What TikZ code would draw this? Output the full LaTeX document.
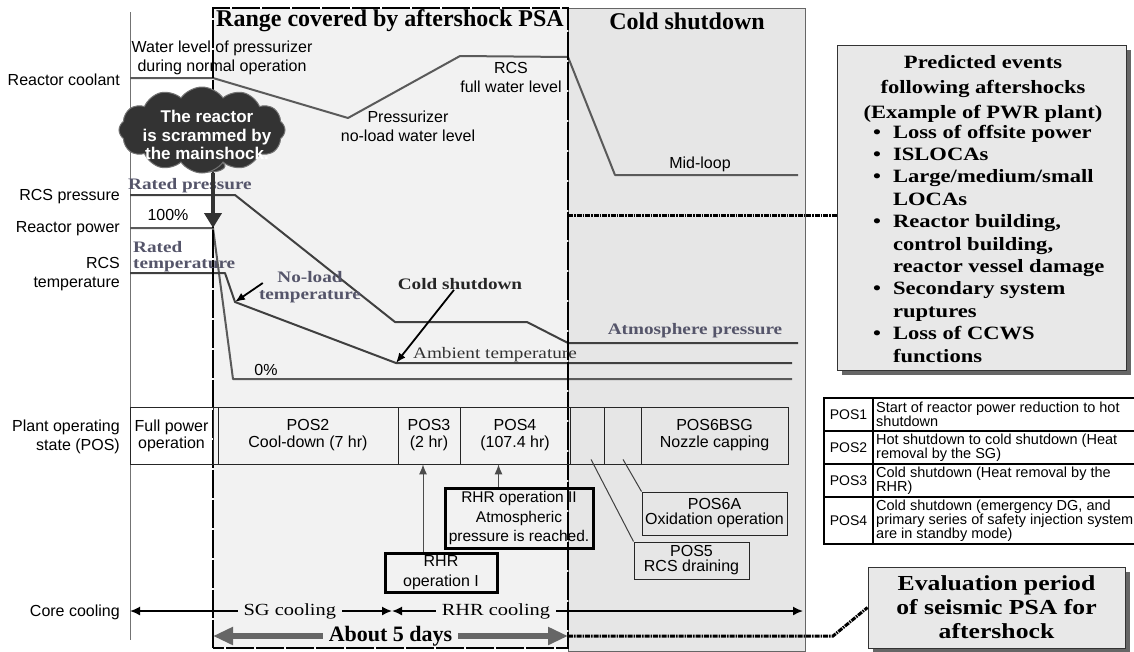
\documentclass[tikz,border=0pt]{standalone}
\usepackage{fontspec}
\setmainfont{Liberation Sans}
\newfontfamily\tms{Liberation Serif}
\newfontfamily\tmsw[FakeStretch=1.2]{Liberation Serif}
\usetikzlibrary{arrows.meta,shapes.symbols,shapes.geometric,shadows}

\definecolor{rangefill}{HTML}{F2F2F2}
\definecolor{coldfill}{HTML}{E6E6E6}
\definecolor{boxfill}{HTML}{E8E8E8}
\definecolor{curvedark}{HTML}{404040}
\definecolor{curvelight}{HTML}{5A5A5A}
\definecolor{slate}{HTML}{55556A}

\tikzset{
  sanslab/.style={font=\fontsize{16}{19}\selectfont, align=center, inner sep=0pt},
  leftlab/.style={sanslab, align=right, anchor=east},
  serlab/.style={font=\tmsw\bfseries\fontsize{16}{17}\selectfont, text=slate, align=center, inner sep=0pt},
  bigtitle/.style={font=\tms\bfseries\fontsize{24}{24}\selectfont, anchor=base, inner sep=0pt},
  curve/.style={line width=2pt, line join=round},
  poscell/.style={draw=black!85, line width=0.8pt, minimum height=57pt, inner sep=0pt, font=\fontsize{16}{17}\selectfont, align=center},
  rhrbox/.style={draw=black, line width=3pt, inner sep=0pt, align=center},
  posbox/.style={draw=black!85, line width=1pt, inner sep=0pt, align=center, font=\fontsize{16}{15}\selectfont},
  evbox/.style={draw=black!80, line width=1pt, fill=boxfill, inner sep=0pt, drop shadow={shadow xshift=5pt, shadow yshift=-5pt, fill=black!60, opacity=1}},
  tablab/.style={font=\fontsize{14}{14}\selectfont, inner sep=0pt},
  tabtxt/.style={font=\fontsize{14.5}{14}\selectfont, align=left, anchor=west, inner sep=0pt},
  link/.style={line width=3pt, dash pattern=on 5pt off 1pt on 1.5pt off 1pt},
  callout/.style={black, line width=1.8pt, -{Latex[length=10pt,width=8pt]}},
  uparrow/.style={draw=black!70, line width=1pt, -{Latex[length=10pt,width=8pt]}},
  leader/.style={draw=black!75, line width=1pt},
  scram/.style={draw=black!80, line width=4.5pt, -{Triangle[length=15pt,width=17pt]}},
  ccarrow/.style={black, line width=1.6pt, {Latex[length=10pt,width=9pt]}-{Latex[length=10pt,width=9pt]}},
  ccfill/.style={fill=rangefill, font=\tmsw\fontsize{17}{17}\selectfont, inner xsep=6pt, inner ysep=0pt},
  dayarrow/.style={draw=black!60, line width=6pt, {Triangle[length=20pt,width=17pt]}-{Triangle[length=20pt,width=17pt]}},
  dayfill/.style={fill=rangefill, font=\tms\bfseries\fontsize{22}{22}\selectfont, inner xsep=6pt, inner ysep=1pt},
}

\begin{document}
\begin{tikzpicture}[x=1pt, y=-1pt]
\useasboundingbox (0,0) rectangle (1134,651);

% regions
\node[draw=black!60, line width=1pt, fill=coldfill, minimum width=237pt, minimum height=643pt, inner sep=0pt] (cold) at (686.5,329.5) {};
\node[fill=rangefill, minimum width=355pt, minimum height=640pt, inner sep=0pt] (range) at (390.5,328) {};
\node[bigtitle] (rangetitle) at (390,26) {Range covered by aftershock PSA};
\node[bigtitle] (coldtitle) at (687,29) {Cold shutdown};

\coordinate (axtop) at (130,12);
\coordinate (axbot) at (130,640);
\draw[black!55, line width=1pt] (axtop) -- (axbot);

% curves
\coordinate (c0) at (130,78);  \coordinate (c1) at (213,78);
\coordinate (c2) at (348,118); \coordinate (c3) at (460,56);
\coordinate (c4) at (568,57);  \coordinate (c5) at (615,175);
\coordinate (c6) at (798,175);
\coordinate (p0) at (130,195); \coordinate (p1) at (235,195);
\coordinate (p2) at (395,322); \coordinate (p3) at (527,322);
\coordinate (p4) at (568,343); \coordinate (p5) at (798,343);
\coordinate (w0) at (130,228); \coordinate (w1) at (213,228);
\coordinate (w2) at (233,379); \coordinate (w3) at (792,379);
\coordinate (t0) at (130,273); \coordinate (t1) at (225,273);
\coordinate (t2) at (235,302); \coordinate (t3) at (396,363);
\coordinate (t4) at (792,363);
\draw[curve, curvelight] (c0) -- (c1) -- (c2) -- (c3) -- (c4) -- (c5) -- (c6);
\draw[curve, curvedark] (p0) -- (p1) -- (p2) -- (p3) -- (p4) -- (p5);
\draw[curve, curvelight] (w0) -- (w1) -- (w2) -- (w3);
\draw[curve, curvedark] (t0) -- (t1) -- (t2) -- (t3) -- (t4);

\draw[black, line width=2pt, dash pattern=on 28pt off 2pt] (range.south west) rectangle (range.north east);

% left labels
\node[leftlab] (lcool) at (120,80) {Reactor coolant};
\node[leftlab] (lpres) at (120,197) {RCS pressure};
\node[leftlab] (lpow) at (120,229) {Reactor power};
\node[leftlab] (ltemp) at (120,274) {RCS\\temperature};
\node[leftlab] (lpos) at (120,437) {Plant operating\\state (POS)};
\node[leftlab] (lcore) at (120,612) {Core cooling};

\node[sanslab] (normal) at (222,58) {Water level of pressurizer\\during normal operation};
\node[sanslab] (fulllevel) at (511,77) {RCS\\full water level};
\node[sanslab] (noload) at (408,126) {Pressurizer\\no-load water level};
\node[sanslab] (midloop) at (700,164) {Mid-loop};
\node[sanslab] (hundred) at (168,215) {100\%};
\node[sanslab] (zero) at (266,370) {0\%};

\node[serlab, anchor=west] (ratedp) at (128,186) {Rated pressure};
\node[serlab, align=left, anchor=west, font=\tmsw\bfseries\fontsize{16}{16}\selectfont] (ratedt) at (133,257) {Rated\\temperature};
\node[serlab] (nlt) at (310,287) {No-load\\temperature};
\node[serlab, text=black!85] (csd) at (460,284) {Cold shutdown};
\node[serlab, text=black!80, font=\tmsw\fontsize{16}{17}\selectfont] (amb) at (495,355) {Ambient temperature};
\node[serlab] (atm) at (695,331) {Atmosphere pressure};
\draw[callout] ([shift={(4pt,4pt)}]nlt.west) -- (t2);
\draw[callout] ([xshift=-6pt]csd.south) -- (t3);

% cloud
\node[ellipse, fill=black!80, draw=black!55, line width=1pt, minimum width=30pt, minimum height=12pt, inner sep=0pt] (ctail) at (210,166) {};
\node[cloud, cloud puffs=12, cloud puff arc=110, cloud ignores aspect, fill=black!80, draw=black!55, line width=1pt, minimum width=166pt, minimum height=86pt, inner sep=0pt] (cloud) at (202,130) {};
\node[font=\bfseries\fontsize{17}{18.5}\selectfont, text=white, align=center, inner sep=0pt] (scramtxt) at (207,135) {The reactor\\is scrammed by\\the mainshock.};
\draw[scram] (w1 |- ctail.south) -- (w1);

% plant operating states
\node[poscell, minimum width=83pt] (posfull) at (171.5,435.5) {Full power\\operation};
\node[poscell, minimum width=5pt] (posgap) at (215.5,435.5) {};
\node[poscell, minimum width=180pt] (pos2) at (308,435.5) {POS2\\Cool-down (7 hr)};
\node[poscell, minimum width=62pt] (pos3) at (429,435.5) {POS3\\(2 hr)};
\node[poscell, minimum width=110pt] (pos4) at (515,435.5) {POS4\\(107.4 hr)};
\node[poscell, minimum width=34pt] (pos5c) at (587,435.5) {};
\node[poscell, minimum width=37pt] (pos6c) at (622.5,435.5) {};
\node[poscell, minimum width=147pt] (pos6b) at (714.5,435.5) {POS6BSG\\Nozzle capping};

\node[rhrbox, minimum width=148pt, minimum height=60pt, font=\fontsize{15.5}{19.5}\selectfont] (rhr2) at (519,518) {RHR operation II\\Atmospheric\\pressure is reached.};
\node[rhrbox, minimum width=112pt, minimum height=39pt, font=\fontsize{16}{20}\selectfont] (rhr1) at (441,572.5) {RHR\\operation I};
\node[posbox, minimum width=145pt, minimum height=43pt] (pos6a) at (714.5,513.5) {POS6A\\Oxidation operation};
\node[posbox, minimum width=115pt, minimum height=37pt] (pos5) at (691.5,560.5) {POS5\\RCS draining};

\draw[uparrow] ([xshift=-18pt]rhr1.north) -- ([xshift=-18pt]rhr1.north |- pos3.south);
\draw[uparrow] (rhr1.east |- rhr2.north) -- (rhr1.east |- pos4.south);
\draw[leader] ([shift={(4pt,5pt)}]pos5c.south) -- (pos5.north west);
\draw[leader] ([shift={(0.5pt,5pt)}]pos6c.south) -- (pos6a.north west);

% core cooling and period
\coordinate (ccL) at (130,611);
\coordinate (ccM) at (392,611);
\coordinate (ccR) at (803,611);
\draw[ccarrow] (ccL) -- node[ccfill, pos=0.61] (sgcool) {SG cooling} (ccM);
\draw[ccarrow] (ccM) -- node[ccfill, pos=0.253] (rhrcool) {RHR cooling} (ccR);
\coordinate (d0) at (213,636);
\coordinate (d1) at (568,636);
\draw[dayarrow] (d0) -- node[dayfill] (days) {About 5 days} (d1);

% right side
\node[evbox, minimum width=289pt, minimum height=325pt] (events) at (981.5,207.5) {};
\node[font=\tmsw\bfseries\fontsize{18.8}{25}\selectfont, align=center, inner sep=0pt] (evtitle) at (983,89) {Predicted events\\following aftershocks\\(Example of PWR plant)};
\node[font=\tmsw\bfseries\fontsize{18.8}{22.4}\selectfont, anchor=north west, inner sep=0pt] (evlist) at (873,122.3) {%
\begin{tabular}{@{}l@{\hspace{12pt}}l@{}}
\textbullet & Loss of offsite power\\
\textbullet & ISLOCAs\\
\textbullet & Large/medium/small\\
 & LOCAs\\
\textbullet & Reactor building,\\
 & control building,\\
 & reactor vessel damage\\
\textbullet & Secondary system\\
 & ruptures\\
\textbullet & Loss of CCWS\\
 & functions
\end{tabular}};

\draw[black, line width=1.3pt] (1134,398) -- (824,398) -- (824,544) -- (1134,544);
\draw[black, line width=1.3pt] (873,398) -- (873,544);
\foreach \y in {431,464,497} \draw[black, line width=1.3pt] (824,\y) -- (1134,\y);
\node[tablab] (pos1l) at (848.5,414.5) {POS1};
\node[tablab] (pos2l) at (848.5,447.5) {POS2};
\node[tablab] (pos3l) at (848.5,480.5) {POS3};
\node[tablab] (pos4l) at (848.5,520.5) {POS4};
\node[tabtxt] (pos1t) at (876,414.5) {Start of reactor power reduction to hot\\shutdown};
\node[tabtxt] (pos2t) at (876,447.5) {Hot shutdown to cold shutdown (Heat\\removal by the SG)};
\node[tabtxt] (pos3t) at (876,480.5) {Cold shutdown (Heat removal by the\\RHR)};
\node[tabtxt] (pos4t) at (876,520.5) {Cold shutdown (emergency DG, and\\primary series of safety injection system\\are in standby mode)};

\node[evbox, minimum width=257pt, minimum height=81pt, font=\tmsw\bfseries\fontsize{21.4}{24}\selectfont, align=center] (eval) at (996.5,607.5) {Evaluation period\\of seismic PSA for\\aftershock};

\draw[link] ([yshift=-7.5pt]events.west -| range.east) -- ([yshift=-7.5pt]events.west);
\coordinate (kink) at (833,636);
\draw[link] (d1) -- (kink) -- (eval.west);
\end{tikzpicture}
\end{document}
